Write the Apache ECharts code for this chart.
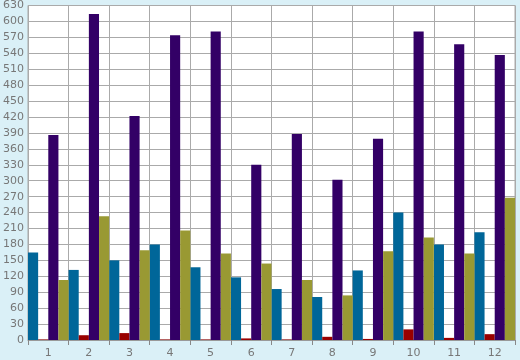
<!DOCTYPE html>
<html><head><meta charset="utf-8">
<script src="https://cdn.jsdelivr.net/npm/echarts@6/dist/echarts.min.js"></script>
<style>html,body{margin:0;padding:0;background:#daf0f7;}#c{width:520px;height:360px;}</style>
</head><body><div id="c"></div>
<script>
var categories = ['1','2','3','4','5','6','7','8','9','10','11','12'];
var blueSeries = [165,132,150,180,137,118,96,81,131,240,180,203];
var redSeries = [1,9,13,1,1,3,1,6,2,20,4,11];
var purpleSeries = [386,614,422,574,581,330,388,302,379,581,557,537];
var oliveSeries = [113,233,169,206,163,144,113,84,167,193,163,268];

var chart = echarts.init(document.getElementById('c'));
function mk(name, data, color){
  return {name:name,type:'bar',data:data,barGap:'0%',barCategoryGap:'0%',itemStyle:{color:color},animation:false};
}
chart.setOption({
  backgroundColor:'#daf0f7',
  animation:false,
  grid:{left:26,right:5,top:5,bottom:20,show:true,backgroundColor:'#ffffff',borderColor:'#aaaaaa',borderWidth:1},
  xAxis:{type:'category',data:categories,
    axisLine:{show:true,lineStyle:{color:'#999999'}},
    axisTick:{show:true,length:5,lineStyle:{color:'#888888'}},
    axisLabel:{color:'#777777',fontFamily:'DejaVu Sans',fontSize:11,margin:8},
    splitLine:{show:true,lineStyle:{color:'#aaaaaa',width:1}}},
  yAxis:{type:'value',min:0,max:630,interval:30,
    axisLine:{show:true,lineStyle:{color:'#aaaaaa'}},
    axisTick:{show:false},
    axisLabel:{color:'#777777',fontFamily:'DejaVu Sans',fontSize:11,margin:4},
    splitLine:{show:true,lineStyle:{color:'#aaaaaa',width:1}}},
  series:[mk('A',blueSeries,'#006699'),mk('B',redSeries,'#990000'),mk('C',purpleSeries,'#330066'),mk('D',oliveSeries,'#999933')]
});
</script></body></html>
